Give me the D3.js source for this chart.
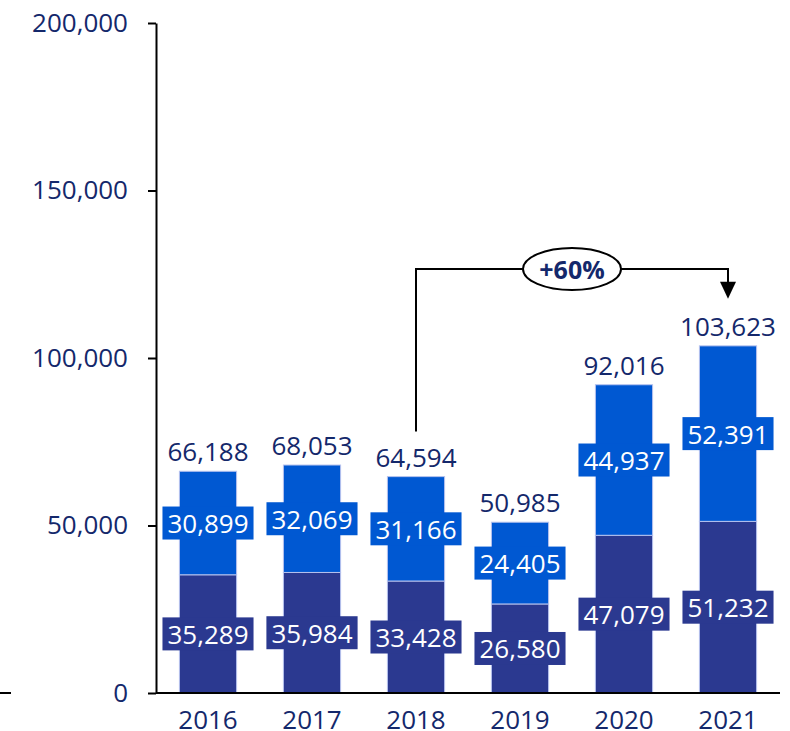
<!DOCTYPE html>
<html>
<head>
<meta charset="utf-8">
<script src="https://cdn.jsdelivr.net/npm/d3@7"></script>
<style>
  html, body { margin: 0; padding: 0; background: #fff; }
  svg { display: block; font-family: "Open Sans", "Noto Sans", sans-serif; }
</style>
</head>
<body>
<svg id="chart" width="790" height="731"></svg>
<script>
const years = ["2016", "2017", "2018", "2019", "2020", "2021"];
const bottomValues = [35289, 35984, 33428, 26580, 47079, 51232];
const topValues = [30899, 32069, 31166, 24405, 44937, 52391];
const totals = [66188, 68053, 64594, 50985, 92016, 103623];
const yTicks = [0, 50000, 100000, 150000, 200000];
const growthLabel = "+60%";
const growthFrom = "2018";
const growthTo = "2021";

const navy = "#14286b";
const colBottom = "#2b3990";
const colTop = "#0058d2";
const fontSize = 26;

const svg = d3.select("#chart");
const x = d3.scaleBand().domain(years).range([156, 780]).paddingInner(0.45).paddingOuter(0.225);
const y = d3.scaleLinear().domain([0, 200000]).range([693, 23]);
const fmt = d3.format(",");

// y axis
const yAxis = svg.append("g").attr("transform", "translate(156,0)")
  .call(d3.axisLeft(y).tickValues(yTicks).tickFormat(fmt).tickSize(8).tickSizeOuter(0).tickPadding(20));
yAxis.select(".domain").attr("stroke", "#000").attr("stroke-width", 2);
yAxis.selectAll(".tick line").attr("stroke", "#000").attr("stroke-width", 2);
yAxis.selectAll(".tick text").attr("fill", navy).attr("font-size", fontSize)
  .attr("font-family", "'Open Sans', 'Noto Sans', sans-serif");

// stray short line at left edge
svg.append("line").attr("x1", 0).attr("x2", 11).attr("y1", y(0)).attr("y2", y(0))
  .attr("stroke", "#000").attr("stroke-width", 2);

const data = years.map((yr, i) => ({ yr, b: bottomValues[i], t: topValues[i], tot: totals[i] }));

const g = svg.append("g");
// bars
g.selectAll("rect.bottom").data(data).join("rect")
  .attr("x", d => x(d.yr)).attr("width", x.bandwidth())
  .attr("y", d => y(d.b)).attr("height", d => y(0) - y(d.b))
  .attr("fill", colBottom).attr("stroke", "#b7c3ee").attr("stroke-width", 1);
g.selectAll("rect.top").data(data).join("rect")
  .attr("x", d => x(d.yr)).attr("width", x.bandwidth())
  .attr("y", d => y(d.b + d.t)).attr("height", d => y(d.b) - y(d.b + d.t))
  .attr("fill", colTop).attr("stroke", "#b7c3ee").attr("stroke-width", 1);

// x axis baseline
svg.append("line").attr("x1", 156).attr("x2", 780).attr("y1", y(0)).attr("y2", y(0))
  .attr("stroke", "#000").attr("stroke-width", 2);

// segment labels
function segLabel(cx, cy, text, fill) {
  const t = g.append("text").attr("x", cx).attr("y", cy).attr("text-anchor", "middle")
    .attr("dominant-baseline", "central").attr("fill", "#fff").attr("font-size", fontSize).text(text);
  const bb = t.node().getBBox();
  g.insert("rect", function() { return t.node(); })
    .attr("x", cx - bb.width / 2 - 5).attr("y", cy - 16.5).attr("width", bb.width + 10).attr("height", 33)
    .attr("fill", fill);
}
data.forEach(d => {
  const cx = x(d.yr) + x.bandwidth() / 2;
  segLabel(cx, (y(0) + y(d.b)) / 2, fmt(d.b), colBottom);
  segLabel(cx, (y(d.b) + y(d.b + d.t)) / 2, fmt(d.t), colTop);
  g.append("text").attr("x", cx).attr("y", y(d.tot) - 10).attr("text-anchor", "middle")
    .attr("fill", navy).attr("font-size", fontSize).text(fmt(d.tot));
});

// x labels
svg.append("g").selectAll("text").data(years).join("text")
  .attr("x", d => x(d) + x.bandwidth() / 2).attr("y", 729).attr("text-anchor", "middle")
  .attr("fill", navy).attr("font-size", fontSize).text(d => d);

// growth bracket
const i0 = years.indexOf(growthFrom), i1 = years.indexOf(growthTo);
const xa = x(growthFrom) + x.bandwidth() / 2;
const xb = x(growthTo) + x.bandwidth() / 2;
const yTopLine = 269;
const yStart = y(totals[i0]) - 45;
const arrowTip = y(totals[i1]) - 47;
svg.append("path")
  .attr("d", `M${xa},${yStart} V${yTopLine} H${xb} V${arrowTip - 14}`)
  .attr("fill", "none").attr("stroke", "#000").attr("stroke-width", 2);
svg.append("path")
  .attr("d", `M${xb - 8},${arrowTip - 17} L${xb + 8},${arrowTip - 17} L${xb},${arrowTip} Z`)
  .attr("fill", "#000");
const ex = (xa + xb) / 2;
svg.append("ellipse").attr("cx", ex).attr("cy", yTopLine).attr("rx", 49).attr("ry", 21)
  .attr("fill", "#fff").attr("stroke", "#000").attr("stroke-width", 2);
svg.append("text").attr("x", ex).attr("y", yTopLine).attr("text-anchor", "middle")
  .attr("dominant-baseline", "central").attr("fill", navy).attr("font-weight", "bold")
  .attr("font-size", 25).text(growthLabel);
</script>
</body>
</html>
